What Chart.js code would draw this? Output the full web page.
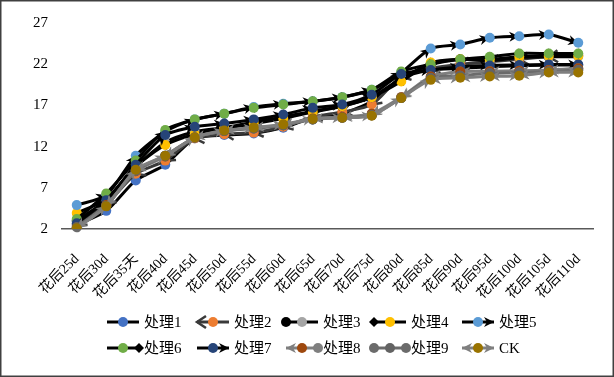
<!DOCTYPE html>
<html>
<head>
<meta charset="utf-8">
<script src="https://cdn.jsdelivr.net/npm/chart.js@4/dist/chart.umd.min.js"></script>
<style>
  html, body { margin: 0; padding: 0; background: #fff; }
  #wrap { width: 614px; height: 377px; position: relative; }
</style>
</head>
<body>
<div id="wrap"><canvas id="line"></canvas></div>
<script>
// categories
const labels = ["花后25d", "花后30d", "花后35天", "花后40d", "花后45d", "花后50d",
  "花后55d", "花后60d", "花后65d", "花后70d", "花后75d", "花后80d",
  "花后85d", "花后90d", "花后95d", "花后100d", "花后105d", "花后110d"];

const seriesNames = ["处理1", "处理2", "处理3", "处理4", "处理5", "处理6", "处理7", "处理8", "处理9", "CK"];

// values
const t1 = [2.5, 4.2, 7.9, 9.8, 13.0, 13.4, 13.6, 14.3, 15.5, 16.0, 17.5, 20.3, 21.3, 21.5, 21.7, 21.8, 21.9, 21.9];
const t2 = [2.5, 5.0, 8.7, 10.3, 13.0, 13.5, 13.7, 14.4, 15.6, 16.2, 17.1, 20.5, 21.5, 22.0, 22.3, 22.6, 22.9, 23.1];
const t3 = [3.0, 5.5, 9.5, 12.5, 13.8, 14.3, 15.0, 15.6, 16.3, 16.9, 18.0, 20.3, 22.0, 22.6, 22.4, 22.8, 22.9, 22.9];
const t4 = [3.95, 5.6, 9.6, 12.2, 13.5, 14.2, 14.8, 15.4, 16.2, 16.9, 18.0, 19.9, 22.2, 22.6, 22.6, 22.9, 23.0, 23.0];
const t5 = [4.9, 6.1, 10.9, 13.8, 15.3, 16.0, 16.8, 17.2, 17.5, 18.0, 18.9, 21.0, 23.9, 24.4, 25.2, 25.4, 25.6, 24.6];
const t6 = [3.2, 6.3, 10.3, 14.0, 15.3, 16.0, 16.7, 17.1, 17.5, 18.0, 18.9, 21.1, 22.0, 22.6, 22.9, 23.3, 23.3, 23.3];
const t7 = [2.7, 5.5, 9.8, 13.4, 14.4, 14.8, 15.3, 15.9, 16.7, 17.1, 18.3, 20.8, 21.3, 21.7, 21.85, 21.9, 21.95, 21.95];
const t8 = [2.2, 4.9, 9.0, 10.8, 13.1, 13.9, 14.3, 14.6, 15.4, 15.6, 16.0, 18.0, 20.5, 21.1, 21.15, 21.2, 21.3, 21.5];
const t9 = [2.2, 4.8, 9.1, 10.9, 13.1, 13.9, 14.2, 14.6, 15.3, 15.5, 15.8, 17.9, 20.3, 20.6, 20.9, 21.0, 21.1, 21.3];
const ck = [2.1, 4.75, 9.2, 10.9, 13.1, 13.95, 14.3, 14.7, 15.35, 15.5, 15.75, 17.9, 20.1, 20.35, 20.5, 20.6, 21.0, 21.0];

const allSeries = [t1, t2, t3, t4, t5, t6, t7, t8, t9, ck];

const yTicks = [2, 7, 12, 17, 22, 27];

// look of each series (marker colour, line colour, line-end decorations)
const markerColors = ["#4472C4", "#ED7D31", "#A5A5A5", "#FFC000", "#5B9BD5", "#70AD47", "#264478", "#9E480E", "#636363", "#997300"];
const lineColors = ["#000", "#3a3a3a", "#000", "#000", "#000", "#000", "#000", "#7f7f7f", "#6b6b6b", "#7f7f7f"];
const startDecos = [null, "open", "oval", "diamond", null, null, null, "arrow", "oval", "arrow"];
const endDecos = [null, null, null, null, "arrow", "diamond", "arrow", "oval", "oval", "arrow"];

const FONT = "'Liberation Serif', 'Times New Roman', 'Noto Sans CJK SC', serif";

function drawDeco(ctx, type, x, y, ang, color) {
  ctx.save();
  ctx.translate(x, y);
  ctx.rotate(ang);
  ctx.fillStyle = color;
  ctx.strokeStyle = color;
  if (type === "arrow") {
    ctx.beginPath();
    ctx.moveTo(0, 0);
    ctx.lineTo(-10, -5);
    ctx.lineTo(-7, 0);
    ctx.lineTo(-10, 5);
    ctx.closePath();
    ctx.fill();
  } else if (type === "open") {
    ctx.lineWidth = 2.5;
    ctx.beginPath();
    ctx.moveTo(-9, -6);
    ctx.lineTo(0, 0);
    ctx.lineTo(-9, 6);
    ctx.stroke();
  } else if (type === "oval") {
    ctx.beginPath();
    ctx.arc(0, 0, 5, 0, Math.PI * 2);
    ctx.fill();
  } else if (type === "diamond") {
    ctx.beginPath();
    ctx.moveTo(5, 0);
    ctx.lineTo(0, -5);
    ctx.lineTo(-5, 0);
    ctx.lineTo(0, 5);
    ctx.closePath();
    ctx.fill();
  }
  ctx.restore();
}

const decoPlugin = {
  id: "deco",
  beforeDatasetDraw(chart, args) {
    const ds = chart.data.datasets[args.index];
    const pts = args.meta.data;
    const ctx = chart.ctx;
    for (let i = 1; i < pts.length; i++) {
      const a = pts[i - 1];
      const b = pts[i];
      const ang = Math.atan2(b.y - a.y, b.x - a.x);
      if (ds.endDeco) drawDeco(ctx, ds.endDeco, b.x, b.y, ang, ds.borderColor);
      if (ds.startDeco) drawDeco(ctx, ds.startDeco, a.x, a.y, ang + Math.PI, ds.borderColor);
    }
  },
  afterDraw(chart) {
    const ctx = chart.ctx;
    // legend, two rows of five
    const colX = [123, 213, 302, 390, 478];
    const rowY = [322, 348];
    chart.data.datasets.forEach((ds, i) => {
      const cx = colX[i % 5];
      const cy = rowY[Math.floor(i / 5)];
      ctx.save();
      ctx.strokeStyle = ds.borderColor;
      ctx.lineWidth = 3;
      ctx.beginPath();
      ctx.moveTo(cx - 16, cy);
      ctx.lineTo(cx + 16, cy);
      ctx.stroke();
      if (ds.startDeco) drawDeco(ctx, ds.startDeco, cx - 16, cy, Math.PI, ds.borderColor);
      if (ds.endDeco) drawDeco(ctx, ds.endDeco, cx + 16, cy, 0, ds.borderColor);
      ctx.fillStyle = ds.pointBackgroundColor;
      ctx.beginPath();
      ctx.arc(cx, cy, 5, 0, Math.PI * 2);
      ctx.fill();
      ctx.fillStyle = "#000";
      ctx.font = "15px " + FONT;
      ctx.textBaseline = "middle";
      ctx.textAlign = "left";
      ctx.fillText(ds.label, cx + 21, cy + 1);
      ctx.restore();
    });
    // outer frame
    ctx.save();
    ctx.strokeStyle = "#404040";
    ctx.lineWidth = 1.5;
    ctx.strokeRect(0.75, 0.75, chart.width - 1.5, chart.height - 1.5);
    ctx.restore();
  }
};

const datasets = allSeries.map((vals, i) => ({
  label: seriesNames[i],
  data: vals,
  borderColor: lineColors[i],
  borderWidth: 3,
  pointBackgroundColor: markerColors[i],
  pointBorderColor: markerColors[i],
  pointRadius: 5,
  pointBorderWidth: 0,
  tension: 0.25,
  startDeco: startDecos[i],
  endDeco: endDecos[i],
  order: allSeries.length - i
}));

const ctx = document.getElementById("line");

new Chart(ctx, {
  type: "line",
  data: { labels: labels, datasets: datasets },
  plugins: [decoPlugin],
  options: {
    responsive: true,
    maintainAspectRatio: false,
    animation: false,
    layout: { padding: { top: 21, left: 10, right: 21, bottom: 78 } },
    plugins: {
      legend: { display: false },
      tooltip: { enabled: false }
    },
    scales: {
      x: {
        offset: true,
        grid: { display: false, drawTicks: false, offset: true },
        border: { display: true, color: "#595959", width: 1.5 },
        ticks: {
          autoSkip: false,
          maxRotation: 45,
          minRotation: 45,
          padding: 22,
          color: "#000",
          font: { family: FONT, size: 14 }
        },
        afterFit(scale) { scale.height = 70; }
      },
      y: {
        min: 2,
        max: 27,
        afterBuildTicks(scale) { scale.ticks = yTicks.map(v => ({ value: v })); },
        grid: { display: false, drawTicks: false },
        border: { display: false },
        ticks: {
          padding: 14,
          color: "#000",
          font: { family: FONT, size: 15 }
        },
        afterFit(scale) { scale.width = 52; }
      }
    }
  }
});
</script>
</body>
</html>
